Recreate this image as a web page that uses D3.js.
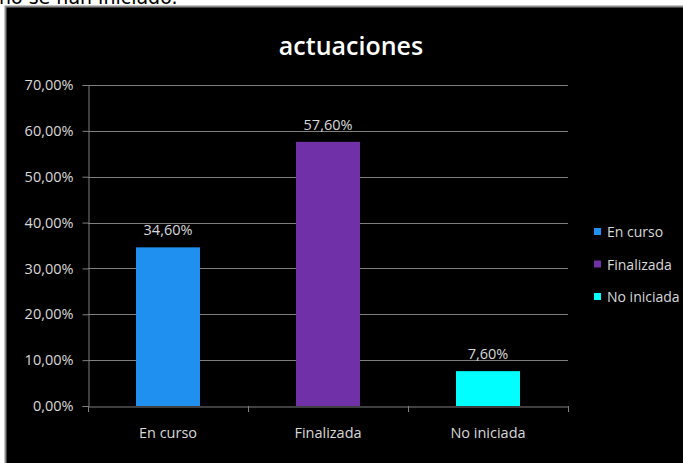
<!DOCTYPE html>
<html><head><meta charset="utf-8">
<script src="https://cdn.jsdelivr.net/npm/d3@7"></script>
<style>body{margin:0;background:#fff;overflow:hidden}svg{display:block}</style>
</head><body>
<script>
const categories = ["En curso", "Finalizada", "No iniciada"];
const values = [0.346, 0.576, 0.076];
const colors = ["#1f8ff0", "#7030a8", "#00ffff"];
const yTicks = [0, 0.1, 0.2, 0.3, 0.4, 0.5, 0.6, 0.7];
const titleText = "actuaciones";
const topText = "no se han iniciado.";

(function () {
const W = 683, H = 463;
const svg = d3.select("body").append("svg").attr("width", W).attr("height", H);
const font = "'Open Sans', 'Liberation Sans', sans-serif";
const fmt = v => (v * 100).toFixed(2).replace(".", ",") + "%";

svg.append("text").attr("x", -1).attr("y", 4).attr("font-family", "'DejaVu Sans', sans-serif")
  .attr("font-size", 19).attr("fill", "#000").text(topText);

svg.append("rect").attr("x", 5.5).attr("y", 6.5).attr("width", W + 10).attr("height", H + 10)
  .attr("fill", "#000").attr("stroke", "#8a8a8a").attr("stroke-width", 2);

const pLeft = 88, pRight = 568, pTop = 85, pBottom = 406;
const x = d3.scaleBand().domain(categories).range([pLeft, pRight]).padding(0);
const y = d3.scaleLinear().domain([0, 0.7]).range([pBottom, pTop]);

svg.append("g").selectAll("line").data(yTicks.slice(1)).join("line")
  .attr("x1", pLeft).attr("x2", pRight).attr("y1", d => Math.round(y(d)) + 0.5).attr("y2", d => Math.round(y(d)) + 0.5)
  .attr("stroke", "#7f7f7f").attr("stroke-width", 1);

const yAxis = svg.append("g").attr("transform", `translate(${pLeft + 0.5},0)`)
  .call(d3.axisLeft(y).tickValues(yTicks).tickFormat(fmt).tickSize(6).tickPadding(9));
yAxis.select(".domain").attr("stroke", "#7f7f7f");
yAxis.selectAll(".tick line").attr("stroke", "#7f7f7f");
yAxis.selectAll("text").attr("fill", "#d9d9d9").attr("font-family", font).attr("font-size", 14.5);

const bw = x.bandwidth() * 0.4;
svg.append("g").selectAll("rect").data(values).join("rect")
  .attr("x", (d, i) => x(categories[i]) + (x.bandwidth() - bw) / 2)
  .attr("width", bw)
  .attr("y", d => y(d)).attr("height", d => pBottom - y(d))
  .attr("fill", (d, i) => colors[i]);

const xAxis = svg.append("g").attr("transform", `translate(0,${pBottom + 0.5})`)
  .call(d3.axisBottom(x).tickSize(0).tickPadding(21));
xAxis.select(".domain").attr("stroke", "#7f7f7f");
xAxis.selectAll("text").attr("fill", "#d9d9d9").attr("font-family", font).attr("font-size", 14.5);
svg.append("g").selectAll("line").data(categories.concat([null])).join("line")
  .attr("x1", (d, i) => Math.round(pLeft + i * x.step()) + 0.5).attr("x2", (d, i) => Math.round(pLeft + i * x.step()) + 0.5)
  .attr("y1", pBottom).attr("y2", pBottom + 6).attr("stroke", "#7f7f7f");

svg.append("g").selectAll("text").data(values).join("text")
  .attr("x", (d, i) => x(categories[i]) + x.bandwidth() / 2)
  .attr("y", d => y(d) - 12)
  .attr("text-anchor", "middle").attr("fill", "#d9d9d9").attr("font-family", font).attr("font-size", 14.5)
  .text(fmt);

svg.append("text").attr("x", 351).attr("y", 55).attr("text-anchor", "middle")
  .attr("fill", "#fff").attr("font-family", font).attr("font-size", 25).attr("font-weight", 600)
  .text(titleText);

const lg = svg.append("g").selectAll("g").data(categories).join("g")
  .attr("transform", (d, i) => `translate(594,${232 + i * 32.5})`);
lg.append("rect").attr("x", 0).attr("y", -4).attr("width", 7).attr("height", 7).attr("fill", (d, i) => colors[i]);
lg.append("text").attr("x", 13).attr("y", 5).attr("fill", "#d9d9d9").attr("font-family", font)
  .attr("font-size", 14).text(d => d);
})();
</script>
</body></html>
